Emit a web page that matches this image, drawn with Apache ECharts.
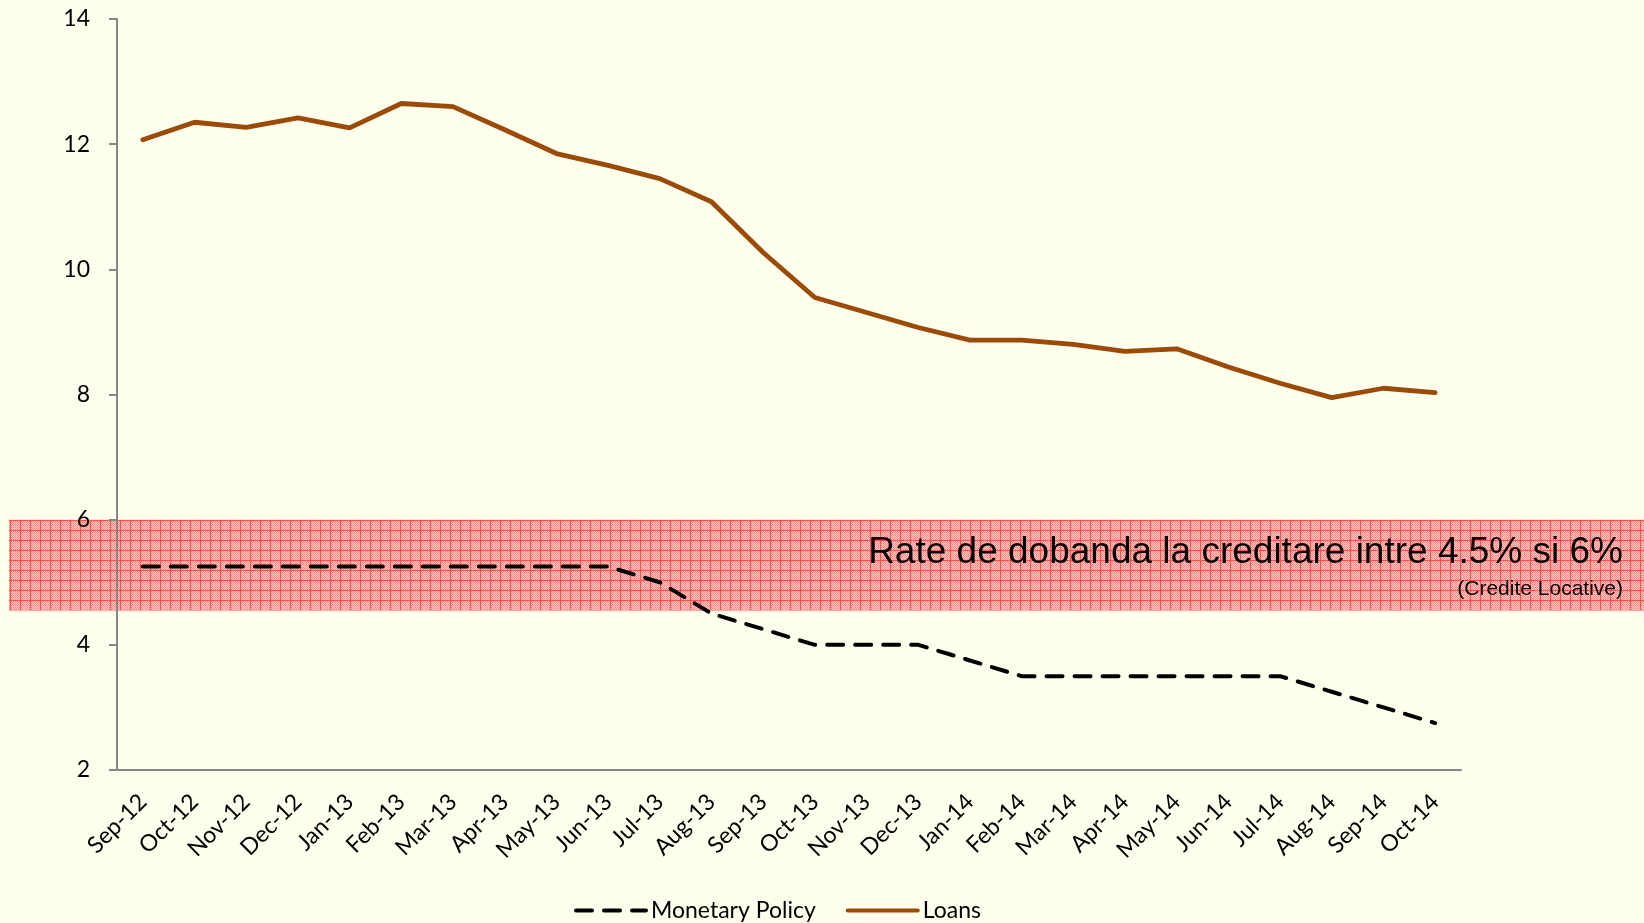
<!DOCTYPE html>
<html>
<head>
<meta charset="utf-8">
<script src="https://cdn.jsdelivr.net/npm/echarts@6/dist/echarts.min.js"></script>
<style>
html,body{margin:0;padding:0;background:#fefeec;}
#chart{width:1644px;height:923px;}
</style>
</head>
<body>
<div id="chart"></div>
<script>
const categories = ['Sep-12','Oct-12','Nov-12','Dec-12','Jan-13','Feb-13','Mar-13','Apr-13','May-13','Jun-13','Jul-13','Aug-13','Sep-13','Oct-13','Nov-13','Dec-13','Jan-14','Feb-14','Mar-14','Apr-14','May-14','Jun-14','Jul-14','Aug-14','Sep-14','Oct-14'];
const monetaryPolicy = [5.25,5.25,5.25,5.25,5.25,5.25,5.25,5.25,5.25,5.25,5.0,4.5,4.25,4.0,4.0,4.0,3.75,3.5,3.5,3.5,3.5,3.5,3.5,3.25,3.0,2.75];
const loans = [12.07,12.35,12.27,12.42,12.26,12.65,12.60,12.23,11.85,11.66,11.45,11.08,10.27,9.55,9.31,9.07,8.87,8.87,8.80,8.69,8.73,8.44,8.18,7.95,8.10,8.03];
const yTicks = [2,4,6,8,10,12,14];
const bandRange = [4.55, 6];
const bandTitle = 'Rate de dobanda la creditare intre 4.5% si 6%';
const bandSubtitle = '(Credite Locative)';

function makePattern(){
  const c = document.createElement('canvas');
  const s = 10;
  c.width = s; c.height = s;
  const ctx = c.getContext('2d');
  for(let i=0;i<s;i++){
    for(let j=0;j<s;j++){
      ctx.fillStyle = ((i+j)%2===0) ? '#ff8888' : '#ffcac2';
      ctx.fillRect(i,j,1,1);
    }
  }
  ctx.fillStyle = '#ff5050';
  ctx.fillRect(0,0,s,1);
  ctx.fillRect(0,0,1,s);
  return c;
}

const chart = echarts.init(document.getElementById('chart'));
const axisColor = '#868686';
const option = {
  backgroundColor: '#fefeec',
  animation: false,
  grid: {left:117, right:183, top:19, bottom:153, containLabel:false},
  legend: {
    left: 569, top: 894,
    itemWidth: 70, itemHeight: 12, itemGap: 30,
    itemStyle: {opacity: 0},
    lineStyle: {width: 4, cap: 'round'},
    textStyle: {fontFamily: 'Lato', fontSize: 23, color: '#000'},
    data: ['Monetary Policy','Loans']
  },
  xAxis: {
    type: 'category',
    data: categories,
    boundaryGap: true,
    axisLine: {lineStyle: {color: axisColor, width: 2}},
    axisTick: {length: 8, lineStyle: {color: axisColor, width: 2}},
    axisLabel: {rotate: 45, fontFamily: 'Lato', fontSize: 23, color: '#000', margin: 28, interval: 0}
  },
  yAxis: {
    type: 'value',
    min: yTicks[0], max: yTicks[yTicks.length-1], interval: 2,
    splitLine: {show: false},
    axisLine: {show: true, lineStyle: {color: axisColor, width: 2}},
    axisTick: {show: true, length: 8, lineStyle: {color: axisColor, width: 2}},
    axisLabel: {fontFamily: 'Lato', fontSize: 23, color: '#000', margin: 27}
  },
  series: [
    {
      name: 'Monetary Policy', type: 'line', data: monetaryPolicy,
      symbol: 'none', z: 5,
      lineStyle: {color: '#000', width: 4, type: [16,12], cap: 'round'},
      itemStyle: {color: '#000'}
    },
    {
      name: 'Loans', type: 'line', data: loans,
      symbol: 'none', z: 5,
      lineStyle: {color: '#9b4a08', width: 4.8, cap: 'round'},
      itemStyle: {color: '#9b4a08'}
    }
  ]
};
chart.setOption(option);

const yTop = chart.convertToPixel({yAxisIndex:0}, bandRange[1]);
const yBot = chart.convertToPixel({yAxisIndex:0}, bandRange[0]);
const pattern = makePattern();
chart.setOption({
  graphic: [
    {
      type: 'rect', z: -1, silent: true,
      shape: {x: 9, y: yTop, width: 1644 - 9, height: yBot - yTop},
      style: {fill: {image: pattern, repeat: 'repeat'}}
    },
    {
      type: 'text', z: 10, silent: true,
      x: 1623, y: 571,
      style: {text: bandTitle, fill: '#000', font: '37px "Liberation Sans"', textAlign: 'right', textVerticalAlign: 'bottom'}
    },
    {
      type: 'text', z: 10, silent: true,
      x: 1623, y: 600,
      style: {text: bandSubtitle, fill: '#000', font: '21px "Liberation Sans"', textAlign: 'right', textVerticalAlign: 'bottom'}
    }
  ]
});
</script>
</body>
</html>
